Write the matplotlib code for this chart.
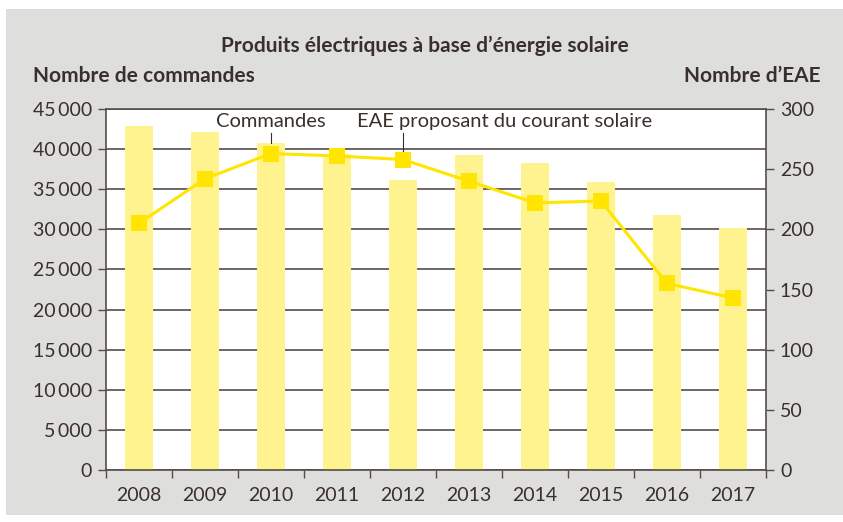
import matplotlib
matplotlib.use("Agg")
import matplotlib.pyplot as plt
from matplotlib.patches import Rectangle

# Données
annees = ["2008", "2009", "2010", "2011", "2012", "2013", "2014", "2015", "2016", "2017"]
commandes = [42900, 42150, 40770, 39360, 36160, 39280, 38280, 35910, 31800, 30170]
eae = [205, 242, 263, 261, 258, 240, 222, 223.5, 155, 143]
ticks_gauche = [0, 5000, 10000, 15000, 20000, 25000, 30000, 35000, 40000, 45000]
ticks_droite = [0, 50, 100, 150, 200, 250, 300]

plt.rcParams['font.family'] = ['Lato', 'DejaVu Sans']
txt = '#3a302b'
c_barre = '#fff38f'
c_ligne = '#ffe500'
c_grille = '#564d4a'

fig = plt.figure(figsize=(8.43, 5.22), dpi=100)
fig.patch.set_facecolor('white')
fig.add_artist(Rectangle((6 / 843, 7 / 522), 837 / 843, 506 / 522,
                         transform=fig.transFigure, facecolor='#dededc',
                         edgecolor='none', zorder=-10))

ax1 = fig.add_axes([106 / 843, 52 / 522, 660 / 843, 361 / 522])
ax1.set_facecolor('white')
x = range(len(annees))
ax1.bar(x, commandes, width=0.41, color=c_barre, zorder=2)
ax1.set_xlim(-0.5, len(annees) - 0.5)
ax1.set_ylim(0, 45000)
ax1.set_yticks(ticks_gauche)
ax1.set_yticklabels([f"{v:,}".replace(",", "\u2009") for v in ticks_gauche])
ax1.yaxis.grid(True, color=c_grille, lw=1.2, zorder=0)
ax1.set_axisbelow(True)
ax1.set_xticks([i + 0.5 for i in range(-1, len(annees))], minor=False)
ax1.set_xticklabels([])
ax1.set_xticks(list(x), minor=True)
ax1.set_xticklabels(annees, minor=True)
ax1.tick_params(axis='x', which='major', length=6, color=c_grille, width=1)
ax1.tick_params(axis='x', which='minor', length=0, pad=12, labelsize=14, labelcolor=txt)
ax1.tick_params(axis='y', length=6, color=c_grille, width=1, labelsize=14,
                labelcolor=txt, pad=4)
for s in ['left', 'right', 'bottom', 'top']:
    ax1.spines[s].set_color(c_grille)
    ax1.spines[s].set_linewidth(1.2)

ax2 = ax1.twinx()
ax2.plot(list(x), eae, color=c_ligne, lw=2.2, marker='s', markersize=12,
         markeredgewidth=0, zorder=5)
ax2.set_ylim(0, 300)
ax2.set_yticks(ticks_droite)
ax2.tick_params(axis='y', length=6, color=c_grille, width=1, labelsize=14,
                labelcolor=txt, pad=4)
for s in ['left', 'right', 'bottom', 'top']:
    ax2.spines[s].set_visible(False)

# étiquettes des séries
echelle = 45000 / 300
y_texte = 43400
y_trait = 42000
ax1.text(2, y_texte, "Commandes", ha='center', va='center', fontsize=14.5,
         color=txt, zorder=6)
ax1.plot([2, 2], [y_trait, commandes[2]], color=txt, lw=0.8, zorder=6)
ax1.text(3.3, y_texte, "EAE proposant du courant solaire", ha='left',
         va='center', fontsize=14.5, color=txt, zorder=6)
ax1.plot([4, 4], [y_trait, eae[4] * echelle + 1100], color=txt, lw=0.8, zorder=6)

fig.text(425 / 843, 1 - 46 / 522, "Produits électriques à base d’énergie solaire",
         ha='center', va='center', fontsize=15, fontweight='bold', color=txt)
fig.text(33 / 843, 1 - 76 / 522, "Nombre de commandes", ha='left', va='center',
         fontsize=15, fontweight='bold', color=txt)
fig.text(820 / 843, 1 - 76 / 522, "Nombre d’EAE", ha='right', va='center',
         fontsize=15, fontweight='bold', color=txt)

fig.savefig("out.png", dpi=100)
